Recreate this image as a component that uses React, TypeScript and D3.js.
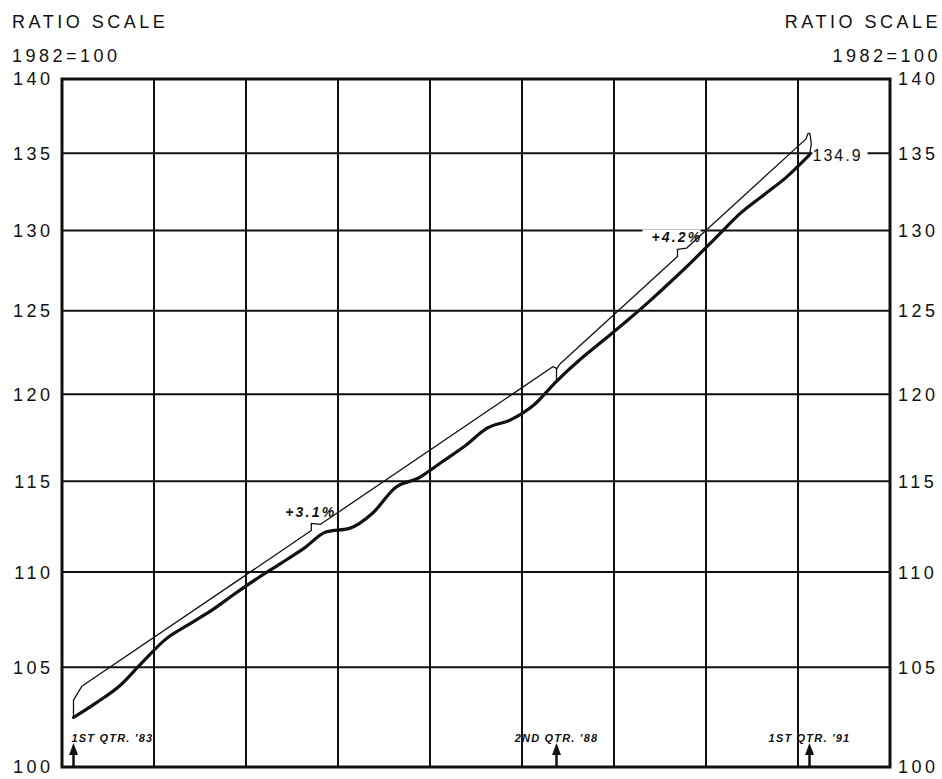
import * as d3 from "d3";

const startYear = 1983;
const endYear = 1992;
// quarterly index, 1st qtr '83 .. 1st qtr '91 (1982=100)
const indexValues = [
  102.45, 103.2, 104.04, 105.26, 106.44, 107.21, 107.96, 108.83, 109.67,
  110.46, 111.27, 112.19, 112.38, 113.21, 114.65, 115.18, 116.07, 116.98,
  118.04, 118.5, 119.35, 120.76, 122.02, 123.16, 124.31, 125.53, 126.83,
  128.2, 129.65, 131.11, 132.27, 133.44, 134.9,
];
const yTicks = [100, 105, 110, 115, 120, 125, 130, 135, 140];
// trend segments (quarter index), base value and annual rate
const trendFrom = [0, 21];
const trendTo = [21, 32];
const trendBase = [103.74, 121.6];
const trendRate = [3.1, 4.2];
const trendLabels = ["+3.1%", "+4.2%"];
const trendLabelAt = [1985.71, 1989.69];
const markerLabels = ["1ST QTR. '83", "2ND QTR. '88", "1ST QTR. '91"];
const markerQuarters = [0, 21, 32];
const lastLabel = "134.9";

const width = 942;
const height = 779;
const margin = { top: 79, right: 52, bottom: 12, left: 62 };
const font = "'Liberation Sans', Arial, sans-serif";

const qTime = (i: number) => startYear + (i + 0.5) / 4;

export default function App() {
  const x = d3
    .scaleLinear()
    .domain([startYear, endYear])
    .range([margin.left, width - margin.right]);
  const y = d3
    .scaleLog()
    .domain([100, 140])
    .range([height - margin.bottom, margin.top]);

  const line = d3
    .line<[number, number]>()
    .x((d) => x(d[0]))
    .y((d) => y(d[1]));

  const dataPts: [number, number][] = indexValues.map((v, i) => [qTime(i), v]);
  const dataPath = line.curve(d3.curveMonotoneX)(dataPts) || "";

  const trendPaths = trendBase.map((base, k) => {
    const t0 = qTime(trendFrom[k]);
    const t1 = qTime(trendTo[k]);
    const tr = (t: number) => base * Math.pow(1 + trendRate[k] / 100, t - t0);
    const tn = trendLabelAt[k];
    const pts: [number, number][] = [];
    if (k === 0) {
      pts.push([t0, indexValues[trendFrom[k]]], [t0, tr(t0) * 0.996], [t0 + 0.09, tr(t0 + 0.09)]);
    } else {
      pts.push([t0, tr(t0) * 0.999], [t0 + 0.04, tr(t0 + 0.04)]);
    }
    // little notch where the label points
    pts.push([tn, tr(tn)], [tn, tr(tn) * 1.0035], [tn + 0.1, tr(tn + 0.1)]);
    if (k === 0) {
      pts.push([t1 - 0.04, tr(t1 - 0.04)], [t1, tr(t1) * 0.998], [t1, indexValues[trendTo[k]]]);
    } else {
      pts.push(
        [t1 - 0.04, tr(t1 - 0.04)],
        [t1 - 0.015, tr(t1) * 1.0012],
        [t1 + 0.005, tr(t1) * 1.001],
        [t1 + 0.02, tr(t1) * 0.996],
        [t1, indexValues[trendTo[k]]]
      );
    }
    return {
      d: line.curve(d3.curveLinear)(pts) || "",
      lx: x(tn) + 23,
      ly: y(tr(tn)) - 14,
    };
  });

  const x0 = margin.left;
  const x1 = width - margin.right;
  const y0 = height - margin.bottom;
  const y1 = margin.top;
  const lastX = x(qTime(indexValues.length - 1));

  return (
    <svg
      width={width}
      height={height}
      style={{ position: "absolute", left: 0, top: 0, background: "#fff" }}
      fontFamily={font}
    >
      <rect width={width} height={height} fill="#fff" />

      {/* headers */}
      <g fontSize={18} letterSpacing={3.5} fill="#111">
        <text x={12} y={28}>RATIO SCALE</text>
        <text x={12} y={62}>1982=100</text>
        <text x={941} y={28} textAnchor="end">RATIO SCALE</text>
        <text x={941} y={62} textAnchor="end">1982=100</text>
      </g>

      {/* grid */}
      <g stroke="#111" strokeWidth={2}>
        {d3.range(startYear + 1, endYear).map((yr) => (
          <line key={yr} x1={x(yr)} x2={x(yr)} y1={y1} y2={y0} />
        ))}
        {yTicks.slice(1, -1).map((v) => (
          <line key={v} x1={x0} x2={x1} y1={y(v)} y2={y(v)} />
        ))}
      </g>
      <rect x={x0} y={y1} width={x1 - x0} height={y0 - y1} fill="none" stroke="#111" strokeWidth={3} />

      {/* y labels both sides */}
      <g fontSize={18} letterSpacing={3.5} fill="#111">
        {yTicks.map((v) => (
          <g key={v}>
            <text x={53.5} y={y(v)} dy="0.36em" textAnchor="end">{v}</text>
            <text x={898} y={y(v)} dy="0.36em">{v}</text>
          </g>
        ))}
      </g>

      {/* label backgrounds */}
      {trendPaths.map((t, k) => (
        <rect key={k} x={t.lx - 58} y={t.ly - 13} width={58} height={16} fill="#fff" />
      ))}
      <rect x={lastX + 3} y={y(135) - 8} width={55} height={16} fill="#fff" />

      {/* trend lines */}
      {trendPaths.map((t, k) => (
        <path key={k} d={t.d} fill="none" stroke="#111" strokeWidth={1.3} strokeLinejoin="round" />
      ))}

      {/* index */}
      <path d={dataPath} fill="none" stroke="#111" strokeWidth={3.2} strokeLinejoin="round" strokeLinecap="round" />

      {/* trend labels */}
      <g fontSize={14} fontStyle="italic" fontWeight="bold" letterSpacing={2.2} fill="#111">
        {trendPaths.map((t, k) => (
          <text key={k} x={t.lx + 2} y={t.ly} textAnchor="end">{trendLabels[k]}</text>
        ))}
      </g>
      <text x={lastX + 3} y={y(134.9)} dy="0.36em" fontSize={16} letterSpacing={2} fill="#111">
        {lastLabel}
      </text>

      {/* quarter markers */}
      {markerQuarters.map((q, k) => {
        const ax = x(qTime(q));
        return (
          <g key={k} fill="#111">
            <line x1={ax} x2={ax} y1={y0} y2={752} stroke="#111" strokeWidth={2.5} />
            <path d={`M${ax},743 L${ax - 4.5},755 L${ax + 4.5},755 Z`} />
            <text
              x={k === 0 ? ax - 2 : ax}
              y={742}
              textAnchor={k === 0 ? "start" : "middle"}
              fontSize={11}
              fontStyle="italic"
              fontWeight={900}
              letterSpacing={1.2}
            >
              {markerLabels[k]}
            </text>
          </g>
        );
      })}
    </svg>
  );
}
